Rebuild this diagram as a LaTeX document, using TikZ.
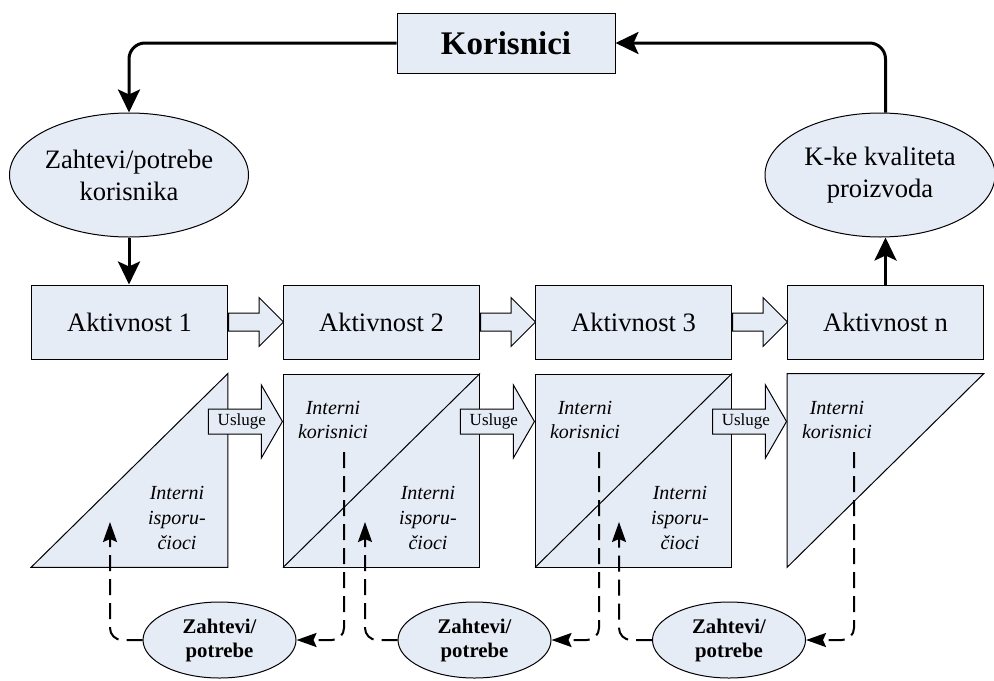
\documentclass[tikz,border=0pt]{standalone}
\usepackage{fontspec}
\setmainfont{Liberation Serif}
\usetikzlibrary{arrows.meta,positioning,calc,shapes.geometric,shapes.arrows}
\definecolor{boxfill}{RGB}{230,236,246}

\begin{document}
\begin{tikzpicture}[x=0.5pt,y=-0.5pt,node distance=27.5pt,
  flow/.style={line width=1.5pt,-{Stealth[length=11.5pt,width=11pt,inset=2.5pt]},rounded corners=8pt},
  req/.style={line width=1pt,dash pattern=on 8pt off 4pt,-{Stealth[length=10pt,width=7pt,inset=1.5pt]},rounded corners=6pt},
  act/.style={draw,fill=boxfill,line width=0.5pt,minimum width=98pt,minimum height=37pt,inner sep=0pt,font=\fontsize{13.3}{16}\selectfont},
  oval/.style={ellipse,draw,fill=boxfill,line width=0.5pt,inner sep=0pt,align=center,font=\fontsize{13.3}{16}\selectfont},
  zoval/.style={oval,minimum width=76.5pt,minimum height=38pt,font=\bfseries\fontsize{10.4}{12}\selectfont},
  lowbox/.style={minimum width=98pt,minimum height=96.5pt,inner sep=0pt},
  part/.style={draw,fill=boxfill,line width=0.5pt},
  ital/.style={align=center,font=\itshape\fontsize{10}{12.4}\selectfont},
  flowarrow/.style={single arrow,draw,fill=boxfill,line width=0.5pt,inner sep=0pt,inner ysep=4.25pt,
    single arrow head extend=7.75pt,minimum height=27.5pt,anchor=tail},
  usluge/.style={single arrow,draw,fill=boxfill,line width=0.5pt,inner xsep=1pt,inner ysep=2.5pt,
    text height=5.5pt,text depth=1.5pt,single arrow head extend=12pt,single arrow tip angle=120,
    minimum height=37pt,anchor=tip,font=\fontsize{8.5}{10}\selectfont}]
  \useasboundingbox (0,0) rectangle (994,680);

  % users and outer loop
  \node[draw,fill=boxfill,line width=0.5pt,minimum width=109pt,minimum height=30pt,
        font=\bfseries\fontsize{16.5}{20}\selectfont] (kor) at (506,43) {Korisnici};
  \node[oval,minimum width=119.5pt,minimum height=62pt] (zk) at (129,175) {Zahtevi/potrebe\\korisnika};
  \node[oval,minimum width=115pt,minimum height=62pt] (kq) at (880,175) {K-ke kvaliteta\\proizvoda};

  % activities
  \node[act] (a1) at (129.5,322) {Aktivnost 1};
  \node[act,right=of a1] (a2) {Aktivnost 2};
  \node[act,right=of a2] (a3) {Aktivnost 3};
  \node[act,right=of a3] (a4) {Aktivnost n};
  \foreach \i/\j in {1/f1,2/f2,3/f3}
    \node[flowarrow] (\j) at (a\i.east) {};

  % internal suppliers / customers
  \node[lowbox,below=7pt of a1] (s1) {};
  \node[lowbox,part,below=7pt of a2] (s2) {};
  \node[lowbox,part,below=7pt of a3] (s3) {};
  \node[lowbox,below=7pt of a4] (s4) {};
  \draw[part] (s1.south west) -- (s1.north east) -- (s1.south east) -- cycle;
  \draw[part] (s4.north west) -- (s4.north east) -- (s4.south west) -- cycle;
  \draw[line width=0.5pt] (s2.south west) -- (s2.north east);
  \draw[line width=0.5pt] (s3.south west) -- (s3.north east);

  \node[usluge] (u1) at ($(s2.north west)+(0,48)$) {Usluge};
  \node[usluge] (u2) at ($(s3.north west)+(0,48)$) {Usluge};
  \node[usluge] (u3) at ($(s4.north west)+(0,48)$) {Usluge};

  \node[ital] (i1) at (177,518) {Interni\\isporu-\\čioci};
  \node[ital] (i2) at (428,518) {Interni\\isporu-\\čioci};
  \node[ital] (i3) at (680,518) {Interni\\isporu-\\čioci};
  \node[ital] (k2) at (333,420) {Interni\\korisnici};
  \node[ital] (k3) at (585,420) {Interni\\korisnici};
  \node[ital] (k4) at (837,420) {Interni\\korisnici};

  % internal requirements
  \node[zoval] (z1) at (219.5,640) {Zahtevi/\\potrebe};
  \node[zoval] (z2) at (474.5,640) {Zahtevi/\\potrebe};
  \node[zoval] (z3) at (729,640) {Zahtevi/\\potrebe};

  \coordinate (t1) at (110,522);
  \coordinate (t2) at (365,522);
  \coordinate (t3) at (619,522);
  \coordinate (c2) at (344,452);
  \coordinate (c3) at (599,452);
  \coordinate (c4) at (854,452);

  \draw[req] (z1.west) -| (t1);
  \draw[req] (z2.west) -| (t2);
  \draw[req] (z3.west) -| (t3);
  \draw[req] (c2) |- (z1.east);
  \draw[req] (c3) |- (z2.east);
  \draw[req] (c4) |- (z3.east);

  % main flow
  \draw[flow] (kor.west) -| (zk.north);
  \draw[flow] (zk.south) -- (a1.north -| zk.south);
  \draw[flow] (a4.north) -- (a4.north |- kq.south);
  \draw[flow] (a4.north |- kq.north) |- (kor.east);
\end{tikzpicture}
\end{document}
